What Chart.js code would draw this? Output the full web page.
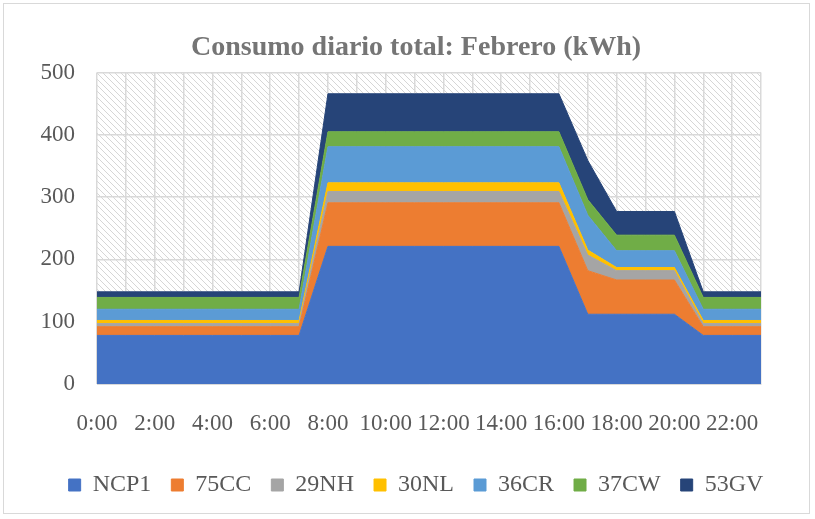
<!DOCTYPE html>
<html>
<head>
<meta charset="utf-8">
<script src="https://cdn.jsdelivr.net/npm/chart.js@4/dist/chart.umd.min.js"></script>
<style>
  html, body { margin: 0; padding: 0; background: #fff; }
  #wrap { position: absolute; left: 3px; top: 3px; width: 807px; height: 511px; border: 1px solid #d9d9d9; box-sizing: border-box; }
  #wrap2 { position: absolute; left: 0; top: 0; width: 815px; height: 519px; }
</style>
</head>
<body>
<div id="wrap"></div>
<div id="wrap2"><canvas id="graph" width="815" height="519"></canvas></div>
<script>
// hours of the day
const hours = ['0:00','1:00','2:00','3:00','4:00','5:00','6:00','7:00','8:00','9:00','10:00','11:00',
               '12:00','13:00','14:00','15:00','16:00','17:00','18:00','19:00','20:00','21:00','22:00','23:00'];

// kWh per meter
const ncp1 = [78,78,78,78,78,78,78,78,221,221,221,221,221,221,221,221,221,112,112,112,112,78,78,78];
const cc75 = [14,14,14,14,14,14,14,14,70,70,70,70,70,70,70,70,70,70,55,55,55,14,14,14];
const nh29 = [5,5,5,5,5,5,5,5,18,18,18,18,18,18,18,18,18,25,15,15,15,5,5,5];
const nl30 = [5,5,5,5,5,5,5,5,14,14,14,14,14,14,14,14,14,8,5,5,5,5,5,5];
const cr36 = [18,18,18,18,18,18,18,18,58,58,58,58,58,58,58,58,58,56,27,27,27,18,18,18];
const cw37 = [19,19,19,19,19,19,19,19,24,24,24,24,24,24,24,24,24,25,25,25,25,19,19,19];
const gv53 = [9,9,9,9,9,9,9,9,61,61,61,61,61,61,61,61,61,63,38,38,38,9,9,9];

const seriesNames = ['NCP1','75CC','29NH','30NL','36CR','37CW','53GV'];
const seriesData = [ncp1, cc75, nh29, nl30, cr36, cw37, gv53];
const seriesColors = ['#4472C4','#ED7D31','#A5A5A5','#FFC000','#5B9BD5','#70AD47','#264478'];

const yTicks = [0,100,200,300,400,500];

function makeHatch(){
    let c = document.createElement('canvas');
    c.width = 6; c.height = 6;
    let g = c.getContext('2d');
    g.fillStyle = '#ffffff';
    g.fillRect(0,0,6,6);
    g.strokeStyle = '#d6d6d6';
    g.lineWidth = 1;
    g.beginPath();
    g.moveTo(-1,-1); g.lineTo(7,7);
    g.moveTo(-1,5); g.lineTo(1,7);
    g.moveTo(5,-1); g.lineTo(7,1);
    g.stroke();
    return c;
}

const hatchPlugin = {
    id: 'hatch',
    beforeDraw(chart){
        let {ctx, chartArea} = chart;
        ctx.save();
        ctx.fillStyle = ctx.createPattern(makeHatch(), 'repeat');
        ctx.fillRect(chartArea.left, chartArea.top, chartArea.right - chartArea.left, chartArea.bottom - chartArea.top);
        ctx.restore();
    }
};

const serif = "'Liberation Serif', 'DejaVu Serif', serif";

const data = {
    labels: hours,
    datasets: seriesNames.map((name, i) => ({
        label: name,
        data: seriesData[i],
        backgroundColor: seriesColors[i],
        borderColor: seriesColors[i],
        borderWidth: 1,
        pointRadius: 0,
        tension: 0,
        fill: i === 0 ? 'origin' : '-1',
    }))
};

const config = {
    type: 'line',
    data: data,
    plugins: [hatchPlugin],
    options: {
        responsive: false,
        animation: false,
        layout: { padding: { left: 36, right: 19, top: 25, bottom: 12 } },
        plugins: {
            title: {
                display: true,
                text: 'Consumo diario total: Febrero (kWh)',
                color: '#757575',
                font: { family: serif, size: 28, weight: 'bold' },
                padding: { top: 6, bottom: 8 }
            },
            legend: {
                position: 'bottom',
                labels: {
                    color: '#595959',
                    font: { family: serif, size: 24 },
                    boxWidth: 12,
                    boxHeight: 12,
                    padding: 20,
                }
            },
            tooltip: { enabled: false }
        },
        scales: {
            x: {
                offset: false,
                afterFit(scale){ scale.height = 69; },
                grid: { color: '#d9d9d9', lineWidth: 1.5, drawTicks: false },
                border: { color: '#d9d9d9' },
                ticks: {
                    autoSkip: false,
                    maxRotation: 0,
                    color: '#595959',
                    font: { family: serif, size: 23 },
                    padding: 26,
                    callback: function(val, idx){ return idx % 2 === 0 ? hours[idx] : ''; }
                }
            },
            y: {
                stacked: true,
                min: yTicks[0],
                max: yTicks[yTicks.length - 1],
                afterFit(scale){ scale.width = 61; },
                grid: { color: '#d9d9d9', lineWidth: 1.5, drawTicks: false },
                border: { display: false },
                ticks: {
                    stepSize: 100,
                    color: '#595959',
                    font: { family: serif, size: 23 },
                    padding: 22
                }
            },
            // empty right-hand spacer so title and legend sit centred like the original
            yRight: {
                position: 'right',
                min: 0,
                max: 1,
                afterFit(scale){ scale.width = 35; },
                grid: { display: false },
                border: { display: false },
                ticks: { display: false }
            }
        }
    }
};

new Chart(document.getElementById('graph'), config);
</script>
</body>
</html>
